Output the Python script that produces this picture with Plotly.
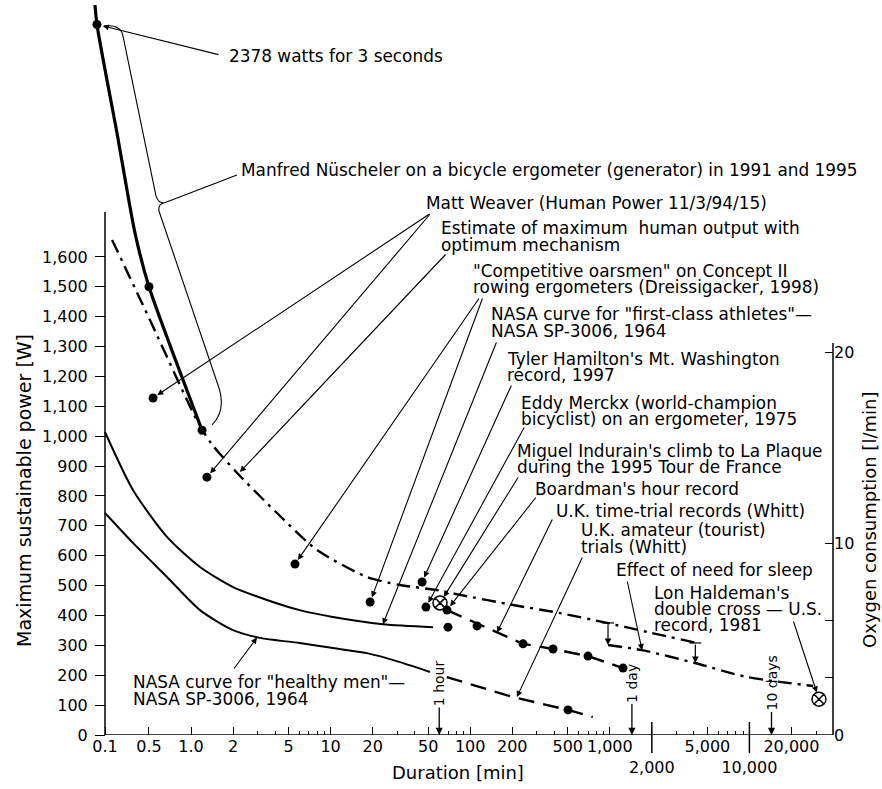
import math
import plotly.graph_objects as go

# ---------------- data (x = duration [min], y = power [W]) ----------------
# Manfred Nüscheler on a bicycle ergometer (thick solid curve)
nuescheler_x = [0.203, 0.212, 0.295, 0.397, 0.50, 0.77, 1.2]
nuescheler_y = [2470, 2378, 2015, 1680, 1500, 1258, 1020]
nuescheler_pts_x = [0.212, 0.50, 1.2]
nuescheler_pts_y = [2378, 1500, 1020]

# Estimate of maximum human output with optimum mechanism (dash-dot)
estimate_x = [0.272, 0.508, 1.10, 1.39, 2.14, 4.13, 8.0, 18.2, 31.4, 57.8, 84.5, 203, 440, 955, 1846, 4214]
estimate_y = [1657, 1389, 1054, 977, 877, 743, 619, 529, 502, 485, 469, 435, 408, 375, 345, 308]

# Effect of need for sleep (lower dash-dot) and Lon Haldeman's record
sleep_x = [971, 1702, 4074, 9610, 28570]
sleep_y = [301, 284, 241, 194, 164]
haldeman_x = [31500]
haldeman_y = [120]

# NASA curve for "first-class athletes"
athletes_x = [0.242, 0.384, 0.673, 1.16, 2.0, 3.5, 6.0, 10.4, 23.7, 54.2]
athletes_y = [1014, 820, 663, 562, 495, 452, 418, 395, 371, 361]

# NASA curve for "healthy men"
healthy_x = [0.242, 0.384, 0.673, 1.16, 2.0, 3.12, 6.0, 10.4, 18.2, 31.4, 51.5]
healthy_y = [743, 643, 529, 418, 351, 325, 308, 291, 274, 244, 211]

# U.K. amateur (tourist) trials (dashed)
amateur_x = [68, 202, 502, 755]
amateur_y = [194, 127, 84, 60]
amateur_pts_x = [502]
amateur_pts_y = [84]

# U.K. time-trial records (dashed)
trial_x = [68.2, 239, 392, 698, 1244]
trial_y = [418, 305, 288, 264, 224]

# single records (filled dots)
records_x = [0.535, 1.30, 5.56, 19.2, 45.2, 48.2, 69.3, 112]
records_y = [1128, 863, 572, 445, 512, 428, 361, 365]

# Boardman's hour record (crossed circle)
boardman_x = [60.8]
boardman_y = [442]

# axis ticks
x_tick_vals = [0.5, 1, 2, 5, 10, 20, 50, 100, 200, 500, 1000, 2000, 5000, 10000, 20000]
x_tick_text = ["0.5", "1.0", "2", "5", "10", "20", "50", "100", "200", "500", "1,000",
               " <br>2,000", "5,000", " <br>10,000", "20,000"]
y_tick_vals = list(range(0, 1700, 100))
o2_tick_vals = [0, 3, 6, 10, 20]
o2_tick_text = ["0", "", "", "10", "20"]
marks_min = [60, 1440, 14400]
marks_text = ["1 hour", "1 day", "10 days"]

# ---------------- layout geometry ----------------
W, H = 882, 789
PLOT_L, PLOT_R, PLOT_T, PLOT_B = 85, 833, 5, 735
AXIS_PX = 105                # where the drawn power axis sits
PX_PER_DECADE = 139.6
PX_AT_ONE = 191
PX_PER_WATT = 0.2988
WATT_PER_LMIN = 64.0

XMIN_LOG = (PLOT_L - PX_AT_ONE) / PX_PER_DECADE
XMAX_LOG = (PLOT_R - PX_AT_ONE) / PX_PER_DECADE
YMAX = (PLOT_B - PLOT_T) / PX_PER_WATT
X_ORIGIN = 10 ** ((AXIS_PX - PX_AT_ONE) / PX_PER_DECADE)


def paper_x(px):
    return (px - PLOT_L) / (PLOT_R - PLOT_L)


def paper_y(py):
    return (PLOT_B - py) / (PLOT_B - PLOT_T)


def log_x(px):
    return (px - PX_AT_ONE) / PX_PER_DECADE


def data_y(py):
    return (PLOT_B - py) / PX_PER_WATT


def pt(px, py):
    return f"{paper_x(px):.4f},{paper_y(py):.4f}"


FONT = "DejaVu Sans"
LBL = 16.9

fig = go.Figure()

spline = dict(shape="spline", smoothing=0.7)
fig.add_trace(go.Scatter(x=nuescheler_x, y=nuescheler_y, mode="lines",
                         line=dict(color="black", width=3.2, **spline)))
fig.add_trace(go.Scatter(x=estimate_x, y=estimate_y, mode="lines",
                         line=dict(color="black", width=2.4, dash="14px,6px,3px,6px", **spline)))
fig.add_trace(go.Scatter(x=sleep_x, y=sleep_y, mode="lines",
                         line=dict(color="black", width=2.4, dash="14px,6px,3px,6px", **spline)))
fig.add_trace(go.Scatter(x=athletes_x, y=athletes_y, mode="lines",
                         line=dict(color="black", width=2.0, **spline)))
fig.add_trace(go.Scatter(x=healthy_x, y=healthy_y, mode="lines",
                         line=dict(color="black", width=2.0, **spline)))
fig.add_trace(go.Scatter(x=amateur_x, y=amateur_y, mode="lines",
                         line=dict(color="black", width=2.4, dash="16px,9px")))
fig.add_trace(go.Scatter(x=trial_x, y=trial_y, mode="lines",
                         line=dict(color="black", width=2.4, dash="16px,9px")))
dot = dict(color="black", size=9)
fig.add_trace(go.Scatter(x=nuescheler_pts_x, y=nuescheler_pts_y, mode="markers", marker=dot, cliponaxis=False))
fig.add_trace(go.Scatter(x=records_x, y=records_y, mode="markers", marker=dot))
fig.add_trace(go.Scatter(x=trial_x, y=trial_y, mode="markers", marker=dot))
fig.add_trace(go.Scatter(x=amateur_pts_x, y=amateur_pts_y, mode="markers", marker=dot))
cross = dict(symbol="circle-x-open", size=14, color="black", line=dict(width=1.5, color="black"))
fig.add_trace(go.Scatter(x=boardman_x, y=boardman_y, mode="markers", marker=cross))
fig.add_trace(go.Scatter(x=haldeman_x, y=haldeman_y, mode="markers", marker=cross))
# empty trace so the oxygen axis is drawn
fig.add_trace(go.Scatter(x=[], y=[], yaxis="y2", mode="markers"))

annotations = []

# ---- text labels: (text, left px, centre py) ----
labels = [
    ("2378 watts for 3 seconds", 228, 56),
    ("Manfred Nüscheler on a bicycle ergometer (generator) in 1991 and 1995", 240, 170),
    ("Matt Weaver (Human Power 11/3/94/15)", 425, 203),
    ("Estimate of maximum  human output with", 440, 228),
    ("optimum mechanism", 440, 245),
    ("\"Competitive oarsmen\" on Concept II", 472, 271),
    ("rowing ergometers (Dreissigacker, 1998)", 472, 287),
    ("NASA curve for \"first-class athletes\"—", 490, 314),
    ("NASA SP-3006, 1964", 490, 331),
    ("Tyler Hamilton's Mt. Washington", 506, 359),
    ("record, 1997", 506, 375),
    ("Eddy Merckx (world-champion", 520, 403),
    ("bicyclist) on an ergometer, 1975", 520, 419),
    ("Miguel Indurain's climb to La Plaque", 516, 451),
    ("during the 1995 Tour de France", 516, 467),
    ("Boardman's hour record", 534, 489),
    ("U.K. time-trial records (Whitt)", 555, 511),
    ("U.K. amateur (tourist)", 580, 530),
    ("trials (Whitt)", 580, 547),
    ("Effect of need for sleep", 615, 570),
    ("Lon Haldeman's", 653, 593),
    ("double cross — U.S.", 653, 609),
    ("record, 1981", 653, 625),
    ("NASA curve for \"healthy men\"—", 132, 682),
    ("NASA SP-3006, 1964", 132, 699),
]
for text, lx, cy in labels:
    annotations.append(dict(text=text, xref="paper", yref="paper", x=paper_x(lx), y=paper_y(cy),
                            xanchor="left", yanchor="middle", showarrow=False, borderpad=0,
                            font=dict(family=FONT, size=LBL, color="black")))

# ---- leader arrows: (tail px, tail py, head x, head y, standoff) ----
arrows = [
    (220, 55, nuescheler_pts_x[0], nuescheler_pts_y[0], 6),
    (431, 213, records_x[0], records_y[0], 5),
    (431, 213, records_x[1], records_y[1], 5),
    (447, 253, 2.24, 880, 0),
    (480, 297, records_x[2], records_y[2], 5),
    (483, 297, records_x[3], records_y[3], 5),
    (497, 341, 23.7, 371, 0),
    (512, 384, records_x[4], records_y[4], 5),
    (525, 426, records_x[5], records_y[5], 5),
    (519, 476, boardman_x[0], boardman_y[0], 7),
    (537, 496, trial_x[0], trial_y[0], 5),
    (553, 518, 155.6, 343, 0),
    (583, 556, 216, 127, 0),
    (627, 580, sleep_x[1], sleep_y[1], 0),
    (793, 620, haldeman_x[0], haldeman_y[0], 7),
    (233, 670, 2.97, 326, 0),
]
for tx, ty, hx, hy, so in arrows:
    annotations.append(dict(text="", x=math.log10(hx), y=hy, xref="x", yref="y",
                            ax=log_x(tx), ay=data_y(ty), axref="x", ayref="y",
                            showarrow=True, arrowhead=2, arrowsize=1.1, arrowwidth=1.1,
                            arrowcolor="black", standoff=so))

# drops caused by the need for sleep
drops = [(971, estimate_y[13], sleep_y[0]), (4100, estimate_y[15], sleep_y[2])]
for dx, y_top, y_bot in drops:
    annotations.append(dict(text="", x=math.log10(dx), y=y_bot, xref="x", yref="y",
                            ax=math.log10(dx), ay=y_top, axref="x", ayref="y",
                            showarrow=True, arrowhead=2, arrowsize=1.1, arrowwidth=1.2,
                            arrowcolor="black"))

# 1 hour / 1 day / 10 days markers
for m, t in zip(marks_min, marks_text):
    annotations.append(dict(text=t, x=math.log10(m), y=0, xref="x", yref="y",
                            textangle=-90, showarrow=True, arrowhead=2, arrowsize=1.1,
                            arrowwidth=1.3, arrowcolor="black", ax=0, ay=-52,
                            font=dict(family=FONT, size=14, color="black")))

# axis titles
annotations.append(dict(text="Maximum sustainable power [W]", xref="paper", yref="paper",
                        x=paper_x(24), y=paper_y(491), textangle=-90, showarrow=False,
                        xanchor="center", yanchor="middle",
                        font=dict(family=FONT, size=19, color="black")))
annotations.append(dict(text="Duration [min]", xref="paper", yref="paper",
                        x=paper_x(458), y=paper_y(773), showarrow=False,
                        xanchor="center", yanchor="middle",
                        font=dict(family=FONT, size=18, color="black")))
annotations.append(dict(text="Oxygen consumption [l/min]", xref="paper", yref="paper",
                        x=paper_x(869), y=paper_y(520), textangle=-90, showarrow=False,
                        xanchor="center", yanchor="middle",
                        font=dict(family=FONT, size=18, color="black")))

# ---- shapes: axis lines, long ticks, bracket ----
line = dict(color="black", width=1.5)
shapes = [
    dict(type="line", xref="paper", yref="y", x0=paper_x(AXIS_PX), x1=paper_x(AXIS_PX), y0=0, y1=1750, line=line),
    dict(type="line", xref="paper", yref="y", x0=paper_x(AXIS_PX), x1=1, y0=0, y1=0, line=line),
    dict(type="line", xref="paper", yref="y2", x0=1, x1=1, y0=0, y1=20.5, line=line),
]
for v in (2000, 10000):
    xp = (math.log10(v) - XMIN_LOG) / (XMAX_LOG - XMIN_LOG)
    shapes.append(dict(type="line", xref="paper", yref="paper", x0=xp, x1=xp,
                       y0=paper_y(753), y1=paper_y(722), line=dict(color="black", width=1.5)))
# small bars at the top of the sleep drops
for dx, y_top, _ in drops:
    xp = (math.log10(dx) - XMIN_LOG) / (XMAX_LOG - XMIN_LOG)
    shapes.append(dict(type="line", xref="paper", yref="y", x0=xp - 0.008, x1=xp + 0.008,
                       y0=y_top, y1=y_top, line=dict(color="black", width=1.2)))
brace = (f"M{pt(104,26)} Q{pt(121,24)} {pt(123,36)} L{pt(156,196)} Q{pt(158,203)} {pt(164,203)} "
         f"M{pt(164,203)} Q{pt(158,204)} {pt(159,211)} L{pt(218,385)} Q{pt(227,410)} {pt(212,425)} "
         f"M{pt(164,203)} L{pt(237,175)}")
shapes.append(dict(type="path", xref="paper", yref="paper", path=brace,
                   line=dict(color="black", width=1.1)))

fig.update_layout(
    width=W, height=H,
    margin=dict(l=PLOT_L, r=W - PLOT_R, t=PLOT_T, b=H - PLOT_B, pad=0),
    paper_bgcolor="white", plot_bgcolor="white",
    showlegend=False,
    font=dict(family=FONT, color="black"),
    xaxis=dict(type="log", range=[XMIN_LOG, XMAX_LOG], showline=False, showgrid=False, zeroline=False,
               tickmode="array", tickvals=[X_ORIGIN] + x_tick_vals, ticktext=["0.1"] + x_tick_text,
               tickangle=0, ticks="inside", ticklen=8, tickwidth=1.3, tickcolor="black",
               tickfont=dict(family=FONT, size=16, color="black"),
               minor=dict(tickmode="array",
                          tickvals=[k * 10 ** d for d in range(0, 5) for k in (3, 4, 6, 7, 8, 9)],
                          ticks="inside", ticklen=4, tickwidth=1.1, tickcolor="black")),
    yaxis=dict(range=[0, YMAX], anchor="free", position=paper_x(AXIS_PX), showline=False,
               showgrid=False, zeroline=False, tickmode="array", tickvals=y_tick_vals,
               tickformat=",", ticks="outside", ticklen=10, tickwidth=1.3, tickcolor="black",
               ticklabelstandoff=4, tickfont=dict(family=FONT, size=16, color="black")),
    yaxis2=dict(range=[0, YMAX / WATT_PER_LMIN], overlaying="y", side="right", anchor="x",
                showline=False, showgrid=False, zeroline=False, tickmode="array",
                tickvals=o2_tick_vals, ticktext=o2_tick_text, ticks="inside", ticklen=8,
                tickwidth=1.3, tickcolor="black", tickfont=dict(family=FONT, size=16, color="black")),
    annotations=annotations,
    shapes=shapes,
)

# the page's default body margin would shift the figure; remove it
fig.write_html("out.html", config={"displayModeBar": False},
               post_script="document.body.style.margin='0';")
